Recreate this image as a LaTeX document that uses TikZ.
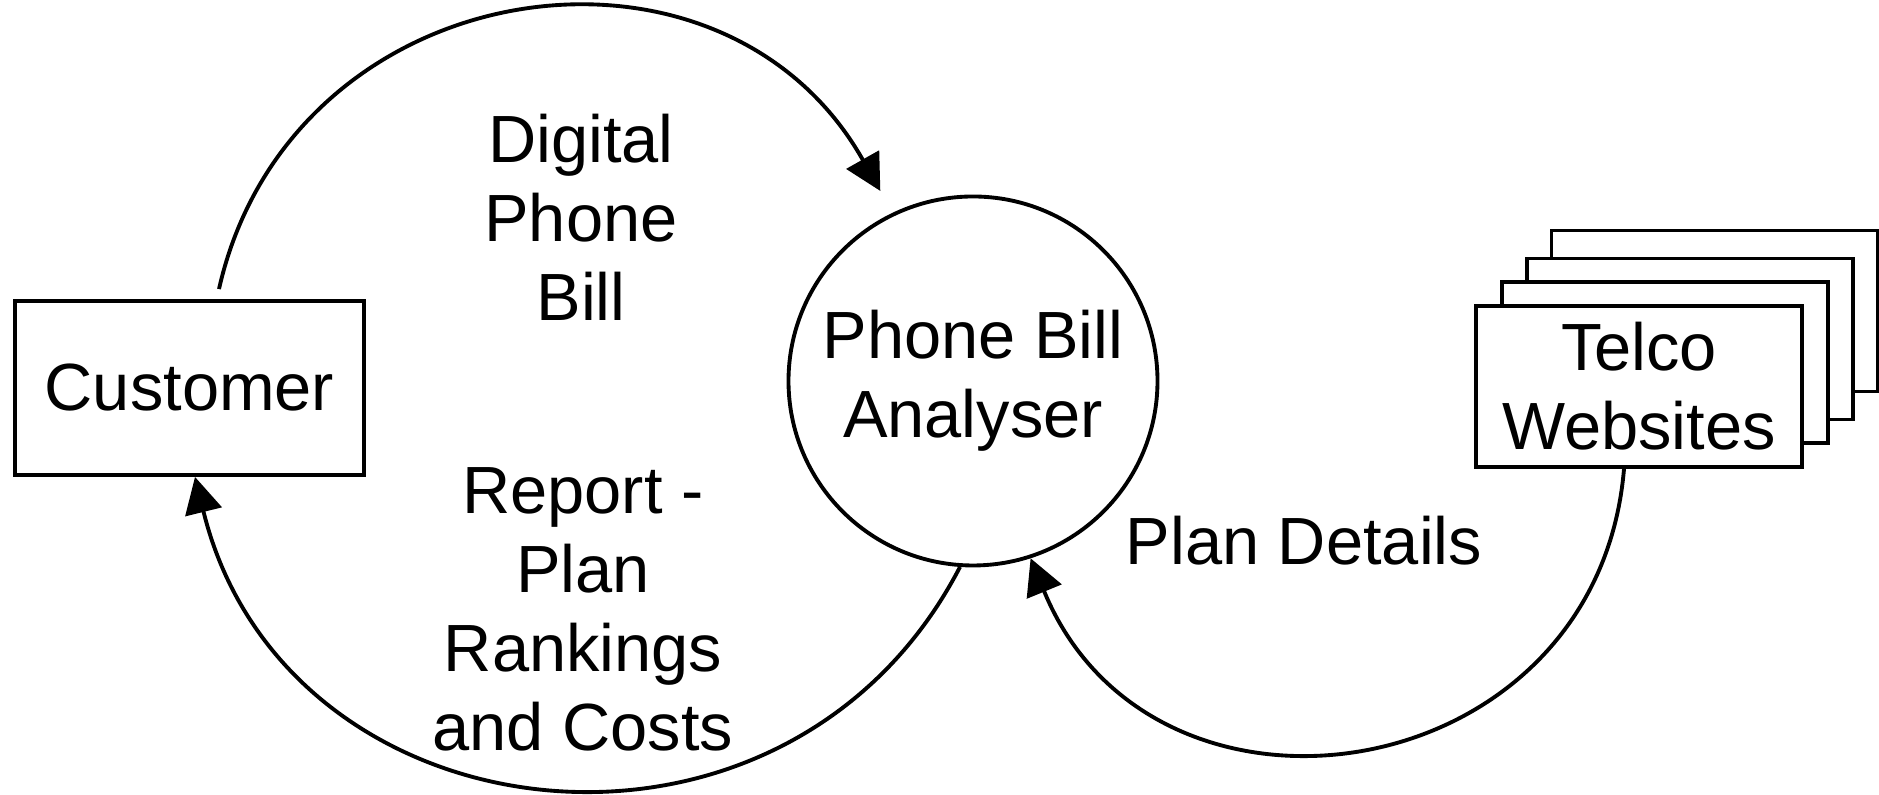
\documentclass[tikz,border=0pt]{standalone}
\usepackage{fontspec}
\setmainfont{Liberation Sans}
\usetikzlibrary{arrows.meta}

\begin{document}
\begin{tikzpicture}[
  line width=1.1pt,
  every node/.style = {font=\fontsize{19}{22.5}\selectfont,align=center},
  entity/.style = {draw,rectangle,fill=white,minimum width=#1,minimum height=1.61cm,inner sep=0pt},
  process/.style = {draw,circle,minimum size=3.69cm,inner sep=0pt},
  flow/.style = {-{Triangle[length=0.36cm,width=0.37cm]}}
  ]
  \useasboundingbox (0,0) rectangle (18.79,7.95);
  % entities and the process
  \node[entity=3.49cm,minimum height=1.74cm] (cust) at (1.895,4.07) {Customer};
  \node[process] (pba) at (9.73,4.14) {Phone Bill\\Analyser};
  % stacked telco sites, back to front
  \foreach \i/\dx/\dy in {4/0.755/0.755, 3/0.51/0.475, 2/0.26/0.24} {
    \node[entity=3.26cm] (web\i) at (16.39+\dx,4.085+\dy) {};
  }
  \node[entity=3.26cm] (web) at (16.39,4.085) {Telco\\Websites};
  %
  \coordinate (billout) at ([shift={(0.295,0.1)}]cust.north);
  \coordinate (billin) at ([shift={(116:0.25)}]pba.116);
  \draw[flow] (billout) to[out=77.3,in=119.4,looseness=1.25] (billin);
  \draw[flow] (pba.-94) to[out=-117.4,in=-76.2,looseness=1.26] ([xshift=0.055cm]cust.south);
  \draw[flow] ([xshift=-0.15cm]web.south) to[out=-94.8,in=-67.7,looseness=1.38] (pba.-72);
  % flow labels
  \node (billlbl) at (5.81,5.78) {Digital\\Phone\\Bill};
  \node (replbl) at (5.83,1.86) {Report -\\Plan\\Rankings\\and Costs};
  \node (planlbl) at (13.04,2.54) {Plan Details};
\end{tikzpicture}
\end{document}
